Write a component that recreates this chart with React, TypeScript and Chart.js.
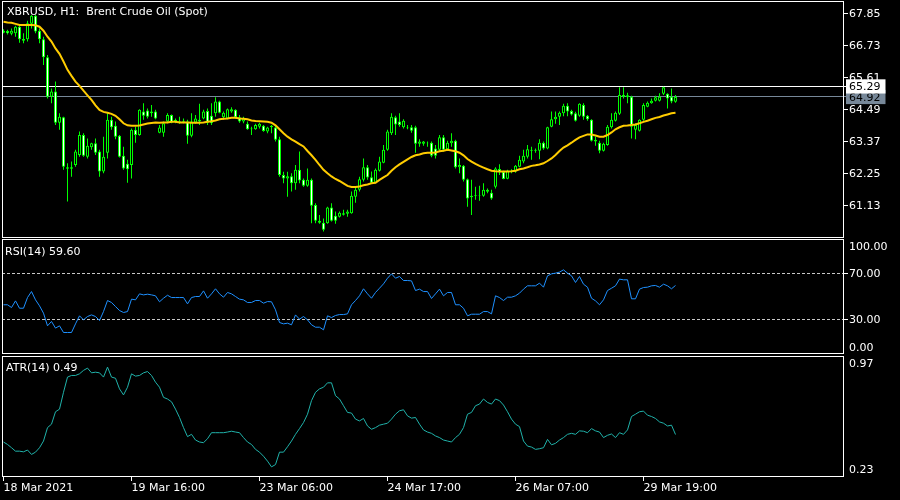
import React, { useEffect, useRef } from "react";
import { Chart, registerables } from "chart.js";

Chart.register(...registerables);

// ---------- data ----------
const TITLE = "XBRUSD, H1:  Brent Crude Oil (Spot)";
const RSI_TITLE = "RSI(14) 59.60";
const ATR_TITLE = "ATR(14) 0.49";

const OPEN = [
  67.17, 67.23, 67.13, 67.15, 67.38, 66.95, 66.94, 67.48, 67.76, 67.24,
  66.94, 66.31, 64.93, 65.11, 64.02, 64.21, 62.46, 62.41, 62.54, 62.89,
  63.59, 62.83, 63.16, 63.30, 63.01, 62.31, 62.97, 64.12, 63.91, 63.56,
  62.86, 62.58, 62.54, 63.77, 63.59, 64.41, 64.45, 64.35, 64.41, 63.67,
  63.67, 64.06, 64.29, 64.08, 64.07, 64.05, 64.06, 63.56, 64.03, 64.12,
  64.17, 64.43, 64.26, 64.35, 64.76, 64.21, 64.17, 64.41, 64.47, 64.21,
  64.06, 63.98, 63.79, 63.79, 63.88, 63.91, 63.71, 63.86, 63.85, 63.44,
  62.19, 62.07, 62.15, 61.90, 62.37, 62.02, 61.81, 62.02, 61.14, 60.59,
  60.52, 60.50, 61.05, 60.76, 60.73, 60.85, 60.83, 60.85, 61.43, 61.67,
  62.02, 62.46, 62.11, 61.92, 62.34, 62.62, 63.07, 63.65, 64.21, 64.06,
  63.86, 63.85, 63.86, 63.86, 63.28, 63.28, 63.32, 63.32, 63.12, 63.07,
  63.51, 63.09, 63.30, 63.39, 62.46, 62.51, 62.04, 61.41, 61.46, 61.47,
  61.46, 61.60, 61.57, 61.78, 62.40, 62.30, 62.06, 62.31, 62.31, 62.48,
  62.66, 62.83, 63.07, 63.04, 63.04, 63.32, 63.12, 63.88, 64.14, 64.23,
  64.35, 64.61, 64.43, 64.35, 64.26, 64.64, 64.26, 64.12, 63.42, 63.32,
  63.04, 63.24, 63.86, 64.09, 64.33, 64.99, 64.91, 64.93, 63.77, 63.74,
  64.12, 64.58, 64.70, 64.79, 64.79, 65.03, 65.03, 64.93, 64.75,
];
const HIGH = [
  67.29, 67.27, 67.32, 67.41, 67.41, 67.15, 67.59, 67.79, 67.79, 67.32,
  67.03, 66.39, 65.22, 65.46, 64.35, 64.23, 62.60, 62.66, 63.07, 63.71,
  63.65, 63.47, 63.32, 63.47, 63.07, 63.53, 64.35, 64.23, 64.06, 63.59,
  63.18, 62.72, 63.82, 63.88, 64.49, 64.70, 64.52, 64.64, 64.47, 63.94,
  64.06, 64.35, 64.31, 64.17, 64.23, 64.17, 64.12, 64.35, 64.29, 64.68,
  64.47, 64.52, 64.70, 64.91, 64.79, 64.41, 64.52, 64.56, 64.49, 64.29,
  64.23, 64.06, 63.88, 63.98, 64.02, 63.94, 63.88, 63.94, 63.91, 63.53,
  62.30, 62.30, 62.25, 62.54, 63.01, 62.07, 62.42, 62.07, 61.20, 60.79,
  60.67, 61.08, 61.20, 60.91, 60.91, 60.97, 60.97, 61.61, 61.78, 62.13,
  62.77, 62.54, 62.31, 62.42, 62.83, 63.24, 63.77, 64.35, 64.26, 64.35,
  64.14, 63.94, 63.94, 63.91, 63.44, 63.38, 63.36, 63.36, 63.24, 63.59,
  63.59, 63.39, 63.65, 63.42, 62.77, 62.54, 62.07, 62.02, 61.78, 61.81,
  61.90, 61.72, 61.67, 62.46, 62.57, 62.34, 62.37, 62.39, 62.54, 62.86,
  63.07, 63.24, 63.18, 63.12, 63.44, 63.36, 63.88, 64.41, 64.41, 64.41,
  64.68, 64.70, 64.47, 64.40, 64.70, 64.70, 64.29, 64.14, 63.53, 63.39,
  63.32, 63.94, 64.35, 64.41, 65.26, 65.26, 65.07, 64.96, 64.00, 64.14,
  64.70, 64.76, 64.87, 64.96, 65.05, 65.28, 65.05, 65.22, 64.99,
];
const LOW = [
  67.15, 67.11, 67.08, 67.03, 66.82, 66.80, 66.86, 67.32, 67.15, 66.80,
  66.04, 64.87, 64.70, 63.94, 63.77, 62.37, 61.26, 62.13, 62.48, 62.83,
  62.83, 62.77, 63.07, 62.89, 62.13, 62.25, 62.77, 63.77, 63.44, 62.80,
  62.37, 61.92, 62.07, 63.32, 63.56, 64.12, 64.17, 64.23, 64.14, 63.65,
  63.53, 64.00, 64.00, 64.00, 63.98, 64.00, 63.28, 63.51, 63.98, 63.94,
  64.14, 63.94, 63.94, 64.23, 64.35, 64.12, 64.14, 64.37, 64.17, 64.02,
  64.00, 63.77, 63.59, 63.77, 63.82, 63.70, 63.65, 63.65, 63.36, 62.13,
  61.90, 61.43, 61.61, 61.67, 61.90, 61.78, 61.78, 60.50, 60.50, 60.48,
  60.21, 60.48, 60.56, 60.48, 60.70, 60.77, 60.73, 60.83, 61.22, 61.61,
  61.96, 62.02, 61.90, 61.90, 62.31, 62.60, 63.04, 63.59, 63.59, 63.88,
  63.82, 63.79, 63.67, 62.97, 63.18, 63.21, 63.18, 62.81, 62.77, 63.04,
  63.01, 63.04, 63.18, 62.42, 62.25, 61.96, 61.08, 60.79, 61.32, 61.29,
  61.43, 61.55, 61.32, 61.72, 62.19, 62.04, 62.04, 62.25, 62.27, 62.46,
  62.60, 62.77, 62.72, 62.97, 62.74, 63.07, 63.09, 63.86, 63.98, 63.94,
  64.25, 64.25, 64.27, 64.06, 64.23, 64.12, 64.09, 63.36, 63.21, 62.95,
  63.01, 63.21, 63.82, 64.06, 64.29, 64.87, 64.70, 63.47, 63.44, 63.71,
  64.09, 64.56, 64.68, 64.76, 64.76, 64.99, 64.52, 64.70, 64.72,
];
const CLOSE = [
  67.24, 67.15, 67.24, 67.38, 66.94, 66.89, 67.50, 67.76, 67.21, 66.94,
  66.31, 64.93, 65.11, 64.02, 64.23, 62.48, 62.41, 62.46, 63.01, 63.59,
  62.86, 63.21, 63.30, 62.97, 62.31, 62.83, 64.12, 63.86, 63.53, 62.83,
  62.42, 62.39, 63.77, 63.59, 64.47, 64.26, 64.23, 64.41, 64.17, 63.85,
  64.00, 64.29, 64.02, 64.12, 64.04, 64.09, 63.56, 64.06, 64.17, 64.06,
  64.41, 64.02, 64.00, 64.76, 64.37, 64.37, 64.49, 64.49, 64.21, 64.06,
  64.17, 63.79, 63.82, 63.94, 63.98, 63.73, 63.85, 63.91, 63.42, 62.19,
  62.07, 62.15, 61.90, 62.37, 62.00, 61.81, 62.02, 61.11, 60.59, 60.52,
  60.27, 61.05, 60.59, 60.59, 60.87, 60.80, 60.91, 61.46, 61.67, 62.04,
  62.46, 62.10, 61.92, 62.37, 62.66, 63.07, 63.71, 64.23, 63.96, 63.94,
  64.09, 63.83, 63.74, 63.28, 63.36, 63.36, 63.30, 62.86, 62.86, 63.51,
  63.07, 63.32, 63.39, 62.46, 62.54, 62.02, 61.37, 61.46, 61.49, 61.49,
  61.67, 61.67, 61.37, 62.42, 62.29, 62.05, 62.34, 62.34, 62.51, 62.72,
  62.86, 63.09, 63.04, 63.07, 63.32, 63.12, 63.86, 64.14, 64.23, 64.37,
  64.61, 64.41, 64.31, 64.09, 64.68, 64.23, 64.14, 63.39, 63.36, 63.04,
  63.28, 63.88, 64.12, 64.37, 64.99, 64.93, 64.98, 63.88, 63.94, 64.12,
  64.64, 64.72, 64.79, 64.91, 64.93, 65.26, 64.87, 64.76, 64.92,
];
const MA = [
  67.55, 67.53, 67.52, 67.48, 67.44, 67.44, 67.44, 67.44, 67.43, 67.38,
  67.24, 67.03, 66.86, 66.62, 66.43, 66.16, 65.87, 65.66, 65.46, 65.31,
  65.14, 64.98, 64.82, 64.63, 64.47, 64.40, 64.37, 64.33, 64.26, 64.14,
  64.00, 63.93, 63.91, 63.91, 63.92, 63.96, 63.99, 64.01, 64.03, 64.02,
  64.03, 64.03, 64.05, 64.05, 64.03, 64.03, 64.03, 64.02, 64.02, 64.02,
  64.03, 64.05, 64.07, 64.10, 64.14, 64.16, 64.17, 64.19, 64.19, 64.17,
  64.16, 64.14, 64.10, 64.08, 64.07, 64.06, 64.05, 64.02, 63.93, 63.79,
  63.65, 63.53, 63.44, 63.36, 63.27, 63.19, 63.03, 62.88, 62.72, 62.54,
  62.37, 62.25, 62.14, 62.05, 61.98, 61.90, 61.81, 61.77, 61.77, 61.79,
  61.83, 61.86, 61.90, 61.92, 62.02, 62.11, 62.19, 62.34, 62.46, 62.56,
  62.65, 62.74, 62.82, 62.88, 62.91, 62.95, 62.97, 62.97, 62.98, 63.02,
  63.04, 63.07, 63.05, 63.02, 62.97, 62.88, 62.75, 62.66, 62.58, 62.51,
  62.45, 62.39, 62.34, 62.32, 62.31, 62.31, 62.31, 62.32, 62.34, 62.39,
  62.42, 62.46, 62.51, 62.53, 62.56, 62.60, 62.68, 62.77, 62.89, 63.03,
  63.15, 63.23, 63.32, 63.42, 63.51, 63.56, 63.61, 63.61, 63.57, 63.53,
  63.53, 63.59, 63.68, 63.79, 63.86, 63.91, 63.92, 63.94, 63.96, 64.00,
  64.05, 64.09, 64.14, 64.19, 64.22, 64.27, 64.31, 64.35, 64.37,
];
const RSI = [
  42.8, 42.8, 40.4, 46.2, 39.8, 39.8, 49.1, 54.3, 47.1, 41.9,
  35.5, 24.5, 28.3, 22.5, 24.5, 18.7, 18.7, 18.7, 26.2, 33.2,
  29.7, 32.6, 34.0, 32.6, 29.1, 36.9, 46.5, 44.8, 41.3, 37.8,
  36.1, 36.9, 47.7, 47.1, 52.3, 51.4, 52.0, 51.4, 50.6, 45.4,
  48.5, 51.1, 49.1, 49.1, 49.1, 49.1, 43.6, 49.1, 50.0, 50.0,
  54.9, 48.5, 52.3, 56.7, 52.3, 49.4, 53.5, 52.3, 50.0, 47.7,
  47.1, 44.8, 44.8, 46.5, 46.5, 44.2, 45.6, 45.4, 38.4, 27.4,
  26.2, 26.8, 25.4, 34.0, 30.3, 32.6, 29.7, 25.4, 23.3, 23.3,
  21.0, 33.2, 31.7, 33.5, 34.3, 34.3, 34.9, 42.8, 46.5, 50.6,
  56.7, 52.3, 48.5, 53.5, 57.2, 61.0, 65.9, 69.7, 65.9, 67.4,
  63.9, 63.9, 63.6, 55.2, 56.4, 54.3, 54.3, 48.3, 52.3, 56.4,
  50.6, 53.5, 53.5, 42.8, 42.8, 39.8, 33.2, 34.6, 34.6, 34.6,
  36.9, 36.9, 34.9, 50.6, 49.1, 46.5, 49.4, 49.4, 50.6, 52.9,
  56.4, 59.3, 59.3, 59.3, 61.6, 58.1, 68.0, 69.7, 70.3, 71.2,
  73.2, 70.3, 68.0, 62.2, 67.4, 60.7, 58.1, 48.5, 46.2, 42.8,
  47.1, 55.2, 57.2, 59.3, 65.1, 64.5, 64.5, 48.0, 48.0, 56.4,
  57.8, 58.1, 59.3, 59.6, 58.1, 60.7, 59.3, 56.7, 59.6,
];
const ATR = [
  0.444, 0.429, 0.409, 0.388, 0.388, 0.384, 0.395, 0.368, 0.382, 0.409,
  0.450, 0.532, 0.553, 0.629, 0.645, 0.748, 0.841, 0.851, 0.851, 0.861,
  0.882, 0.896, 0.867, 0.871, 0.867, 0.841, 0.902, 0.841, 0.834, 0.769,
  0.732, 0.779, 0.861, 0.847, 0.851, 0.867, 0.875, 0.851, 0.810, 0.779,
  0.717, 0.707, 0.690, 0.645, 0.594, 0.532, 0.477, 0.491, 0.456, 0.444,
  0.440, 0.464, 0.501, 0.501, 0.501, 0.501, 0.505, 0.510, 0.505, 0.501,
  0.471, 0.444, 0.429, 0.399, 0.382, 0.357, 0.327, 0.292, 0.306, 0.382,
  0.382, 0.415, 0.450, 0.491, 0.526, 0.563, 0.614, 0.697, 0.748, 0.769,
  0.779, 0.806, 0.806, 0.727, 0.707, 0.666, 0.625, 0.621, 0.584, 0.573,
  0.588, 0.542, 0.522, 0.532, 0.547, 0.553, 0.559, 0.584, 0.614, 0.635,
  0.641, 0.604, 0.590, 0.594, 0.553, 0.518, 0.505, 0.497, 0.481, 0.471,
  0.456, 0.450, 0.444, 0.471, 0.491, 0.532, 0.614, 0.625, 0.666, 0.676,
  0.707, 0.686, 0.676, 0.707, 0.697, 0.670, 0.629, 0.584, 0.553, 0.538,
  0.450, 0.419, 0.413, 0.399, 0.403, 0.409, 0.460, 0.427, 0.436, 0.456,
  0.471, 0.491, 0.497, 0.491, 0.512, 0.510, 0.501, 0.526, 0.512, 0.505,
  0.471, 0.485, 0.493, 0.471, 0.501, 0.491, 0.518, 0.600, 0.614, 0.629,
  0.633, 0.608, 0.600, 0.588, 0.567, 0.559, 0.542, 0.547, 0.490,
];

const TIME_TICKS = [0, 32, 64, 96, 128, 160];
const TIME_LABELS = ["18 Mar 2021", "19 Mar 16:00", "23 Mar 06:00", "24 Mar 17:00", "26 Mar 07:00", "29 Mar 19:00"];
const PRICE_TICKS = [67.85, 66.73, 65.61, 64.49, 63.37, 62.25, 61.13];
const BID = 64.92;
const ASK = 65.29;
const PRICE_MIN = 59.985;
const PRICE_MAX = 68.28;
const RSI_LEVELS = [70, 30];
const RSI_AXIS_VALUES = [93.65, 70, 30, 5.8];
const RSI_AXIS_LABELS = ["100.00", "70.00", "30.00", "0.00"];
const ATR_MIN = 0.23;
const ATR_MAX = 0.97;
const ATR_AXIS_VALUES = [0.927, 0.277];
const ATR_AXIS_LABELS = ["0.97", "0.23"];

// ---------- styling ----------
const X_MIN = -0.375;
const X_MAX = 210.125;
const AXIS_W = 56;
const FONT = { family: "'DejaVu Sans', sans-serif", size: 11 };
const LIME = "#00ff00";
const MA_COLOR = "#ffcc00";
const RSI_COLOR = "#1e90ff";
const ATR_COLOR = "#20b2aa";
const BID_COLOR = "#778899";

const paneBorder = {
  id: "paneBorder",
  afterDraw(chart: any) {
    const { ctx, chartArea: a } = chart;
    ctx.save();
    ctx.strokeStyle = "#ffffff";
    ctx.lineWidth = 1;
    ctx.strokeRect(a.left + 0.5, a.top + 0.5, a.right - a.left - 1, a.bottom - a.top - 1);
    ctx.restore();
  },
};

const noPadding = (s: any) => {
  s.paddingTop = 0;
  s.paddingBottom = 0;
  s.paddingLeft = 0;
  s.paddingRight = 0;
};

function xScale(visible: boolean): any {
  if (!visible) return { type: "linear", min: X_MIN, max: X_MAX, offset: false, bounds: "data", display: false };
  return {
    type: "linear",
    min: X_MIN,
    max: X_MAX,
    offset: false,
    bounds: "data",
    afterBuildTicks: (s: any) => {
      s.ticks = TIME_TICKS.map((v) => ({ value: v }));
    },
    afterFit: (s: any) => {
      s.height = 23;
      noPadding(s);
    },
    ticks: {
      autoSkip: false,
      maxRotation: 0,
      minRotation: 0,
      align: "start",
      padding: 1,
      color: "#ffffff",
      font: FONT,
      callback: (v: any) => {
        const i = TIME_TICKS.indexOf(Number(v));
        return i >= 0 ? TIME_LABELS[i] : "";
      },
    },
    grid: { display: true, drawOnChartArea: false, drawTicks: true, tickLength: 4, tickColor: "#ffffff", offset: false },
    border: { display: false },
  };
}

function baseOptions(padTop: number, showX: boolean, y: any): any {
  return {
    responsive: false,
    maintainAspectRatio: false,
    animation: false,
    devicePixelRatio: 1,
    events: [],
    layout: { padding: { left: 2, top: padTop, right: 0, bottom: 0 } },
    plugins: { legend: { display: false }, tooltip: { enabled: false } },
    scales: { x: xScale(showX), y },
  };
}

function mainConfig(): any {
  const ticks = [...PRICE_TICKS, BID, ASK];
  const n = PRICE_TICKS.length;
  const y = {
    type: "linear",
    position: "right",
    min: PRICE_MIN,
    max: PRICE_MAX,
    bounds: "data",
    afterBuildTicks: (s: any) => {
      s.ticks = ticks.map((v) => ({ value: v }));
    },
    afterFit: (s: any) => {
      s.width = AXIS_W;
      noPadding(s);
    },
    ticks: {
      autoSkip: false,
      padding: 1,
      labelOffset: 1,
      font: FONT,
      callback: (v: any) => Number(v).toFixed(2),
      color: (c: any) => (c.index >= n ? "#000000" : "#ffffff"),
      showLabelBackdrop: (c: any) => c.index >= n,
      backdropColor: (c: any) => (c.index === n ? BID_COLOR : "#ffffff"),
      backdropPadding: { top: 1.5, bottom: -0.5, left: 3, right: 5 },
    },
    grid: {
      drawOnChartArea: true,
      drawTicks: true,
      tickLength: 4,
      color: (c: any) => (c.index === n ? BID_COLOR : c.index === n + 1 ? "#ffffff" : "transparent"),
      tickColor: (c: any) => (c.index === n ? BID_COLOR : "#ffffff"),
    },
    border: { display: false },
  };
  return {
    type: "bar",
    data: {
      datasets: [
        {
          type: "line",
          data: MA.map((v, i) => ({ x: i, y: v })),
          borderColor: MA_COLOR,
          borderWidth: 2,
          pointRadius: 0,
          tension: 0,
          order: 0,
        },
        {
          type: "bar",
          data: OPEN.map((o, i) => ({ x: i, y: [o, CLOSE[i]] })),
          backgroundColor: OPEN.map((o, i) => (CLOSE[i] >= o ? "#000000" : "#ffffff")),
          borderColor: LIME,
          borderWidth: 1,
          borderSkipped: false,
          barThickness: 3,
          grouped: false,
          inflateAmount: 0,
          order: 1,
        },
        {
          type: "bar",
          data: LOW.map((l, i) => ({ x: i, y: [l, HIGH[i]] })),
          backgroundColor: LIME,
          borderWidth: 0,
          barThickness: 1,
          grouped: false,
          inflateAmount: 0,
          order: 2,
        },
      ],
    },
    options: baseOptions(1, false, y),
    plugins: [paneBorder],
  };
}

function rsiConfig(): any {
  const y = {
    type: "linear",
    position: "right",
    min: 0,
    max: 100,
    bounds: "data",
    afterBuildTicks: (s: any) => {
      s.ticks = RSI_AXIS_VALUES.map((v) => ({ value: v }));
    },
    afterFit: (s: any) => {
      s.width = AXIS_W;
      noPadding(s);
    },
    ticks: {
      autoSkip: false,
      padding: 1,
      labelOffset: 1,
      font: FONT,
      color: "#ffffff",
      callback: (_v: any, i: number) => RSI_AXIS_LABELS[i],
    },
    grid: {
      drawOnChartArea: true,
      drawTicks: true,
      tickLength: 4,
      color: (c: any) => (c.tick && RSI_LEVELS.includes(c.tick.value) ? "#c8c8c8" : "transparent"),
      tickColor: (c: any) => (c.tick && RSI_LEVELS.includes(c.tick.value) ? "#ffffff" : "transparent"),
    },
    border: { display: false, dash: [3, 2] },
  };
  return {
    type: "line",
    data: {
      datasets: [
        {
          data: RSI.map((v, i) => ({ x: i, y: v })),
          borderColor: RSI_COLOR,
          borderWidth: 1,
          pointRadius: 0,
          tension: 0,
        },
      ],
    },
    options: baseOptions(1, false, y),
    plugins: [paneBorder],
  };
}

function atrConfig(): any {
  const y = {
    type: "linear",
    position: "right",
    min: ATR_MIN,
    max: ATR_MAX,
    bounds: "data",
    afterBuildTicks: (s: any) => {
      s.ticks = ATR_AXIS_VALUES.map((v) => ({ value: v }));
    },
    afterFit: (s: any) => {
      s.width = AXIS_W;
      noPadding(s);
    },
    ticks: {
      autoSkip: false,
      padding: 1,
      labelOffset: 1,
      font: FONT,
      color: "#ffffff",
      callback: (_v: any, i: number) => ATR_AXIS_LABELS[i],
    },
    grid: { drawOnChartArea: false, drawTicks: true, tickLength: 4, tickColor: "transparent" },
    border: { display: false },
  };
  return {
    type: "line",
    data: {
      datasets: [
        {
          data: ATR.map((v, i) => ({ x: i, y: v })),
          borderColor: ATR_COLOR,
          borderWidth: 1,
          pointRadius: 0,
          tension: 0,
        },
      ],
    },
    options: baseOptions(2, true, y),
    plugins: [paneBorder],
  };
}

const labelStyle = (left: number, top: number): React.CSSProperties => ({
  position: "absolute",
  left,
  top,
  color: "#ffffff",
  fontFamily: "'DejaVu Sans', sans-serif",
  fontSize: 11,
  lineHeight: "13px",
  whiteSpace: "pre",
  pointerEvents: "none",
});

export default function App() {
  const mainRef = useRef<HTMLCanvasElement>(null);
  const rsiRef = useRef<HTMLCanvasElement>(null);
  const atrRef = useRef<HTMLCanvasElement>(null);

  useEffect(() => {
    const charts = [
      new Chart(mainRef.current as HTMLCanvasElement, mainConfig()),
      new Chart(rsiRef.current as HTMLCanvasElement, rsiConfig()),
      new Chart(atrRef.current as HTMLCanvasElement, atrConfig()),
    ];
    return () => charts.forEach((c) => c.destroy());
  }, []);

  return (
    <div
      style={{
        position: "fixed",
        left: 0,
        top: 0,
        width: 900,
        height: 500,
        background: "#000000",
        overflow: "hidden",
      }}
    >
      <canvas ref={mainRef} width={900} height={238} style={{ position: "absolute", left: 0, top: 0, width: 900, height: 238 }} />
      <canvas ref={rsiRef} width={900} height={116} style={{ position: "absolute", left: 0, top: 238, width: 900, height: 116 }} />
      <canvas ref={atrRef} width={900} height={146} style={{ position: "absolute", left: 0, top: 354, width: 900, height: 146 }} />
      <div style={labelStyle(7, 5)}>{TITLE}</div>
      <div style={labelStyle(5, 245)}>{RSI_TITLE}</div>
      <div style={labelStyle(6, 361)}>{ATR_TITLE}</div>
    </div>
  );
}
